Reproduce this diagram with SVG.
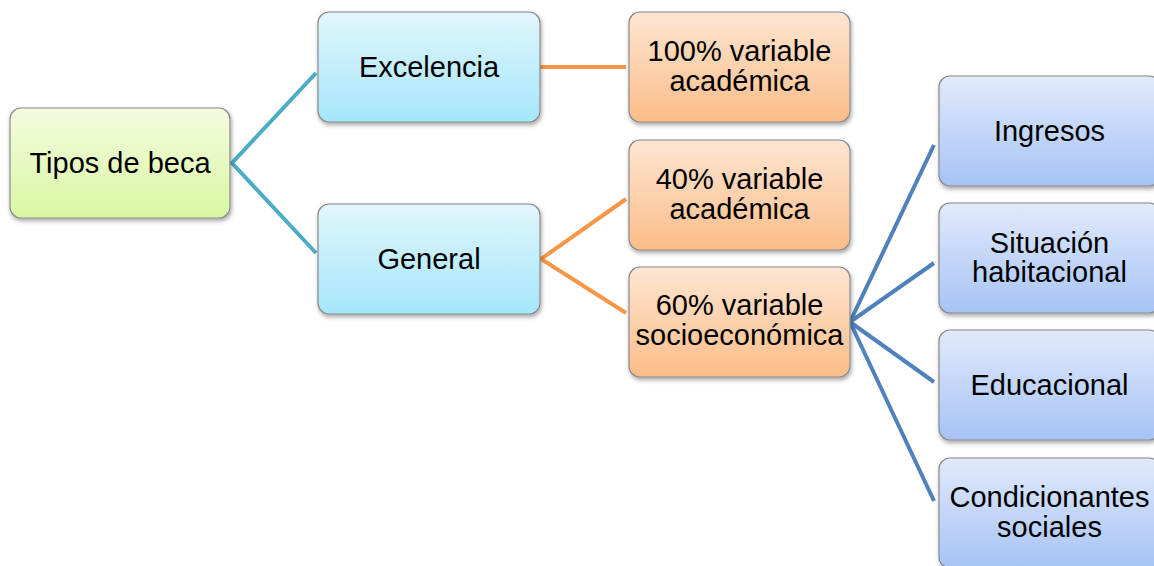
<svg xmlns="http://www.w3.org/2000/svg" width="1154" height="566" viewBox="0 0 1154 566">
<style>
.box{stroke:#8a8a8a;stroke-width:1.2;filter:url(#sh)}
.t{font-family:"Liberation Sans",Arial,sans-serif;font-size:29px;fill:#000;text-anchor:middle}
.c{fill:none;stroke-width:4;stroke-linecap:butt}
.teal{stroke:#4BACC6}.orange{stroke:#F79646}.blue{stroke:#4F81BD}
</style>
<defs>
<filter id="sh" x="-10%" y="-10%" width="125%" height="130%">
<feDropShadow dx="1" dy="2.5" stdDeviation="2" flood-color="#000" flood-opacity="0.35"/>
</filter>
<linearGradient id="gGreen" x1="0" y1="0" x2="0" y2="1"><stop offset="0" stop-color="#F4FBDF"/><stop offset="1" stop-color="#D9F7A2"/></linearGradient>
<linearGradient id="gCyan" x1="0" y1="0" x2="0" y2="1"><stop offset="0" stop-color="#E1F6FD"/><stop offset="1" stop-color="#A5E6FA"/></linearGradient>
<linearGradient id="gOrange" x1="0" y1="0" x2="0" y2="1"><stop offset="0" stop-color="#FDE5D2"/><stop offset="1" stop-color="#FBBD88"/></linearGradient>
<linearGradient id="gBlue" x1="0" y1="0" x2="0" y2="1"><stop offset="0" stop-color="#E0EAFB"/><stop offset="1" stop-color="#A7C3F5"/></linearGradient>
</defs>
<g id="connectors">
<path class="c teal" d="M316,73 L232,163 L316,253"/>
<path class="c orange" d="M540,67 L626,67"/>
<path class="c orange" d="M626,199 L541,259 L626,313"/>
<path class="c blue" d="M934,145 L850,322 L934,263 M850,322 L934,382 M850,322 L934,501"/>
</g>
<g id="n-tipos"><rect class="box" x="10" y="108" width="220" height="110" rx="11" fill="url(#gGreen)"/><text class="t" x="120" y="173">Tipos de beca</text></g>
<g id="n-excelencia"><rect class="box" x="318" y="12" width="222" height="110" rx="11" fill="url(#gCyan)"/><text class="t" x="429" y="77">Excelencia</text></g>
<g id="n-general"><rect class="box" x="318" y="204" width="222" height="110" rx="11" fill="url(#gCyan)"/><text class="t" x="429" y="269">General</text></g>
<g id="n-100"><rect class="box" x="629" y="12" width="221" height="110" rx="11" fill="url(#gOrange)"/><text class="t" x="739.5" y="61">100% variable</text><text class="t" x="739.5" y="91">académica</text></g>
<g id="n-40"><rect class="box" x="629" y="140" width="221" height="110" rx="11" fill="url(#gOrange)"/><text class="t" x="739.5" y="189">40% variable</text><text class="t" x="739.5" y="219">académica</text></g>
<g id="n-60"><rect class="box" x="629" y="267" width="221" height="110" rx="11" fill="url(#gOrange)"/><text class="t" x="739.5" y="315">60% variable</text><text class="t" x="739.5" y="345">socioeconómica</text></g>
<g id="n-ingresos"><rect class="box" x="939" y="76" width="221" height="110" rx="11" fill="url(#gBlue)"/><text class="t" x="1049.5" y="141">Ingresos</text></g>
<g id="n-situacion"><rect class="box" x="939" y="203" width="221" height="110" rx="11" fill="url(#gBlue)"/><text class="t" x="1049.5" y="253">Situación</text><text class="t" x="1049.5" y="282">habitacional</text></g>
<g id="n-educacional"><rect class="box" x="939" y="330" width="221" height="110" rx="11" fill="url(#gBlue)"/><text class="t" x="1049.5" y="395">Educacional</text></g>
<g id="n-condicionantes"><rect class="box" x="939" y="458" width="221" height="110" rx="11" fill="url(#gBlue)"/><text class="t" x="1049.5" y="507">Condicionantes</text><text class="t" x="1049.5" y="537">sociales</text></g>
</svg>
